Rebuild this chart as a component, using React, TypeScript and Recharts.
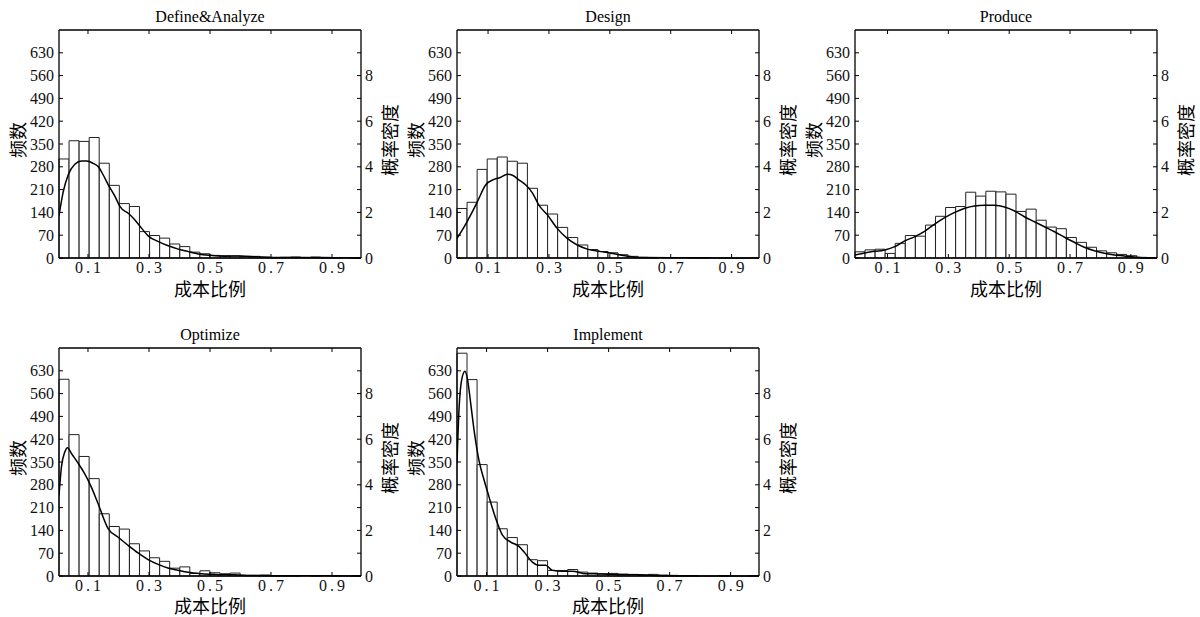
import { ComposedChart, Bar, Line, XAxis, YAxis } from "recharts"

const titles = ["Define&Analyze", "Design", "Produce", "Optimize", "Implement"]

const countTicks = [0, 70, 140, 210, 280, 350, 420, 490, 560, 630]
const densityTicks = [0, 1, 2, 3, 4, 5, 6, 7, 8, 9]
const ratioTicks = [0.1, 0.3, 0.5, 0.7, 0.9]

// histogram counts, 30 bins each
const defineCounts = [304, 360, 358, 370, 291, 223, 167, 158, 81, 69, 61, 43, 35, 18, 13, 8, 7, 6, 5, 5, 3, 1, 2, 3, 1, 3, 2, 1, 0, 1]
const designCounts = [152, 171, 272, 304, 310, 297, 291, 214, 162, 135, 94, 63, 40, 26, 20, 16, 10, 5, 2, 1, 0, 0, 0, 1, 1, 0, 0, 0, 0, 0]
const produceCounts = [19, 25, 27, 14, 45, 69, 67, 101, 128, 155, 158, 202, 190, 205, 203, 196, 143, 150, 116, 95, 90, 63, 48, 33, 22, 16, 11, 7, 2, 1]
const optimizeCounts = [604, 434, 367, 299, 191, 152, 144, 99, 77, 56, 45, 24, 28, 8, 16, 10, 7, 9, 2, 2, 3, 1, 1, 1, 0, 1, 0, 1, 0, 1]
const implementCounts = [684, 603, 342, 227, 145, 118, 96, 50, 47, 17, 17, 20, 12, 9, 7, 8, 6, 5, 2, 5, 3, 2, 1, 1, 0, 0, 1, 0, 0, 1]

// density curves (x = cost ratio, y = density)
const defineKdeX = [0.005, 0.019, 0.035, 0.057, 0.079, 0.096, 0.117, 0.134, 0.15, 0.167, 0.189, 0.205, 0.232, 0.254, 0.276, 0.298, 0.331, 0.363, 0.396, 0.429, 0.462, 0.5, 0.55, 0.6, 0.65, 0.7, 0.8, 0.9, 0.995]
const defineKdeY = [1.86, 2.91, 3.64, 4.11, 4.25, 4.25, 4.15, 4.0, 3.64, 3.2, 2.69, 2.25, 1.96, 1.67, 1.3, 0.96, 0.72, 0.54, 0.39, 0.28, 0.18, 0.12, 0.08, 0.09, 0.05, 0.02, 0.02, 0.01, 0.0]

const designKdeX = [-0.002, 0.021, 0.043, 0.065, 0.092, 0.12, 0.142, 0.163, 0.18, 0.202, 0.224, 0.245, 0.267, 0.295, 0.327, 0.36, 0.393, 0.426, 0.47, 0.5, 0.55, 0.6, 0.7, 0.8, 0.9, 0.99]
const designKdeY = [0.86, 1.35, 1.89, 2.47, 3.2, 3.45, 3.54, 3.67, 3.63, 3.42, 3.2, 2.87, 2.32, 1.89, 1.3, 0.86, 0.57, 0.39, 0.28, 0.22, 0.1, 0.02, 0.01, 0.01, 0.0, 0.0]

const produceKdeX = [-0.007, 0.042, 0.091, 0.124, 0.157, 0.19, 0.223, 0.255, 0.288, 0.321, 0.354, 0.386, 0.419, 0.452, 0.485, 0.518, 0.55, 0.583, 0.616, 0.649, 0.682, 0.714, 0.747, 0.78, 0.813, 0.846, 0.878, 0.911, 0.938, 0.986]
const produceKdeY = [0.13, 0.26, 0.35, 0.5, 0.75, 0.94, 1.18, 1.49, 1.77, 2.0, 2.18, 2.28, 2.31, 2.31, 2.24, 2.06, 1.81, 1.59, 1.37, 1.15, 0.91, 0.69, 0.47, 0.32, 0.21, 0.13, 0.09, 0.04, 0.01, 0.0]

const optimizeKdeX = [0.005, 0.013, 0.024, 0.033, 0.046, 0.067, 0.089, 0.111, 0.133, 0.166, 0.198, 0.231, 0.264, 0.297, 0.33, 0.362, 0.395, 0.428, 0.472, 0.52, 0.58, 0.65, 0.75, 0.85, 0.995]
const optimizeKdeY = [3.54, 4.78, 5.44, 5.63, 5.37, 4.96, 4.49, 3.9, 3.18, 2.08, 1.71, 1.35, 1.01, 0.72, 0.51, 0.35, 0.25, 0.16, 0.1, 0.07, 0.05, 0.02, 0.01, 0.01, 0.0]

const implementKdeX = [0.003, 0.01, 0.018, 0.029, 0.037, 0.048, 0.059, 0.075, 0.092, 0.108, 0.13, 0.152, 0.179, 0.206, 0.223, 0.25, 0.272, 0.294, 0.315, 0.348, 0.381, 0.425, 0.469, 0.5, 0.55, 0.6, 0.65, 0.7, 0.8, 0.993]
const implementKdeY = [4.93, 7.41, 8.58, 8.98, 8.66, 7.56, 6.39, 5.07, 4.2, 3.47, 2.52, 1.79, 1.49, 1.3, 1.05, 0.61, 0.47, 0.47, 0.25, 0.21, 0.21, 0.1, 0.09, 0.08, 0.05, 0.06, 0.02, 0.01, 0.0, 0.0]

// x-axis limits of each panel
const xLimits = [
  [0.005, 0.995],
  [-0.002, 0.99],
  [-0.007, 0.986],
  [0.005, 0.995],
  [0.003, 0.993],
]

const SERIF = "'Liberation Serif', 'Times New Roman', serif"
const CJK = "'Noto Sans CJK SC', 'Noto Sans CJK JP', sans-serif"

const panels = [
  { counts: defineCounts, kx: defineKdeX, ky: defineKdeY },
  { counts: designCounts, kx: designKdeX, ky: designKdeY },
  { counts: produceCounts, kx: produceKdeX, ky: produceKdeY },
  { counts: optimizeCounts, kx: optimizeKdeX, ky: optimizeKdeY },
  { counts: implementCounts, kx: implementKdeX, ky: implementKdeY },
]

const BottomTick = ({ x, y, payload }: any) => (
  <g>
    <line x1={x} x2={x} y1={y} y2={y - 4} stroke="#000" strokeWidth={1} />
    <text x={x + 1.5} y={y + 15} textAnchor="middle" fontFamily={SERIF} fontSize={16} letterSpacing={3} fill="#111">
      {String(payload.value)}
    </text>
  </g>
)

const TopTick = ({ x, y }: any) => <line x1={x} x2={x} y1={y} y2={y + 4} stroke="#000" strokeWidth={1} />

const LeftTick = ({ x, y, payload }: any) => (
  <g>
    <line x1={x} x2={x + 4} y1={y} y2={y} stroke="#000" strokeWidth={1} />
    <text x={x - 5} y={y + 5.5} textAnchor="end" fontFamily={SERIF} fontSize={16} fill="#111">
      {payload.value}
    </text>
  </g>
)

const RightTick = ({ x, y, payload }: any) => (
  <g>
    <line x1={x - 4} x2={x} y1={y} y2={y} stroke="#000" strokeWidth={1} />
    {payload.value % 2 === 0 && (
      <text x={x + 4} y={y + 5.5} textAnchor="start" fontFamily={SERIF} fontSize={16} fill="#111">
        {payload.value}
      </text>
    )}
  </g>
)

const Title = ({ viewBox, text }: any) => (
  <text x={viewBox.x + viewBox.width / 2} y={viewBox.y + viewBox.height - 8.5} textAnchor="middle" fontFamily={SERIF} fontSize={16} fill="#000">
    {text}
  </text>
)

const XTitle = ({ viewBox, dy }: any) => (
  <text x={viewBox.x + viewBox.width / 2} y={viewBox.y + dy} textAnchor="middle" fontFamily={CJK} fontSize={18} fill="#000">
    成本比例
  </text>
)

const YTitle = ({ viewBox, text, dx }: any) => {
  const cx = viewBox.x + dx
  const cy = viewBox.y + viewBox.height / 2 - 4
  return (
    <text
      x={cx}
      y={cy}
      transform={`rotate(-90 ${cx} ${cy})`}
      textAnchor="middle"
      dominantBaseline="central"
      fontFamily={CJK}
      fontSize={18}
      fill="#000"
    >
      {text}
    </text>
  )
}

function Panel({ index }: { index: number }) {
  const p = panels[index]
  const row = Math.floor(index / 3)
  const col = index % 3
  const bars = p.counts.map((c, i) => ({ bin: i, count: c }))
  const kde = p.kx.map((x, i) => ({ x, d: p.ky[i] }))
  const dom = xLimits[index]
  return (
    <div style={{ position: "absolute", left: col * 398, top: row * 318 }}>
      <ComposedChart
        width={410}
        height={310}
        data={bars}
        margin={{ top: 29, right: 10, bottom: 10, left: 0 }}
        barCategoryGap={0}
        barGap={0}
      >
        <XAxis xAxisId="bins" dataKey="bin" type="category" height={0} hide />
        <XAxis
          xAxisId="num"
          dataKey="x"
          type="number"
          domain={dom}
          allowDataOverflow
          ticks={ratioTicks}
          interval={0}
          height={42}
          tickSize={0}
          tickMargin={0}
          tickLine={false}
          axisLine={{ stroke: "#000", strokeWidth: 1.3 }}
          tick={<BottomTick />}
          label={<XTitle dy={row === 0 ? 38 : 37} />}
        />
        <XAxis
          xAxisId="top"
          dataKey="x"
          orientation="top"
          type="number"
          domain={dom}
          allowDataOverflow
          ticks={ratioTicks}
          interval={0}
          height={1}
          tickSize={0}
          tickMargin={0}
          tickLine={false}
          axisLine={{ stroke: "#000", strokeWidth: 1.3 }}
          tick={<TopTick />}
          label={<Title text={titles[index]} />}
        />
        <YAxis
          yAxisId="left"
          orientation="left"
          width={59}
          domain={[0, 700]}
          ticks={countTicks}
          interval={0}
          tickSize={0}
          tickMargin={0}
          tickLine={false}
          axisLine={{ stroke: "#000", strokeWidth: 1.3 }}
          tick={<LeftTick />}
          label={<YTitle text="频数" dx={17} />}
        />
        <YAxis
          yAxisId="right"
          orientation="right"
          width={39}
          domain={[0, 10]}
          ticks={densityTicks}
          interval={0}
          tickSize={0}
          tickMargin={0}
          tickLine={false}
          axisLine={{ stroke: "#000", strokeWidth: 1.3 }}
          tick={<RightTick />}
          label={<YTitle text="概率密度" dx={28} />}
        />
        <Bar
          xAxisId="bins"
          yAxisId="left"
          dataKey="count"
          fill="#fff"
          stroke="#222"
          strokeWidth={1}
          isAnimationActive={false}
        />
        <Line
          xAxisId="top"
          yAxisId="right"
          data={kde}
          dataKey="d"
          stroke="none"
          dot={false}
          activeDot={false}
          isAnimationActive={false}
        />
        <Line
          xAxisId="num"
          yAxisId="right"
          data={kde}
          dataKey="d"
          type="monotone"
          stroke="#000"
          strokeWidth={1.5}
          dot={false}
          activeDot={false}
          isAnimationActive={false}
        />
      </ComposedChart>
    </div>
  )
}

export default function App() {
  return (
    <div style={{ position: "absolute", left: 0, top: 0, width: 1200, height: 617, background: "#fff", overflow: "hidden" }}>
      {panels.map((_, i) => (
        <Panel key={i} index={i} />
      ))}
    </div>
  )
}
